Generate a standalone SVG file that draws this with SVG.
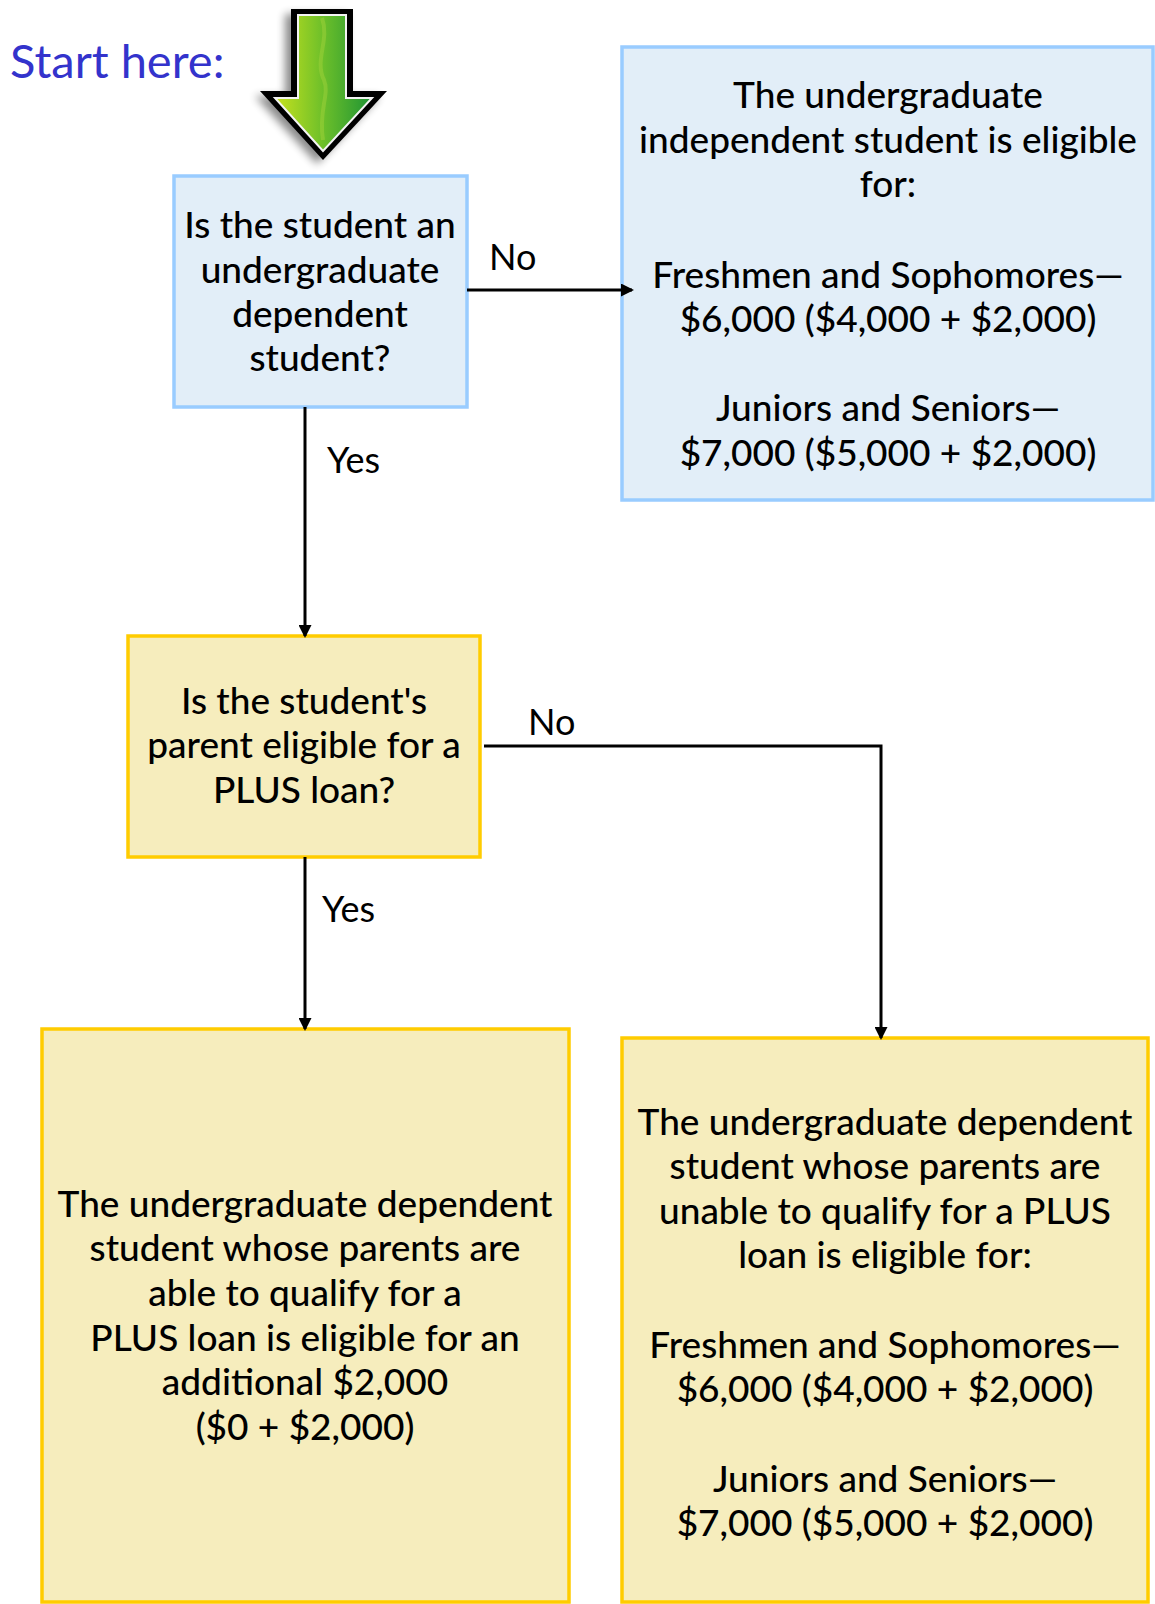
<svg xmlns="http://www.w3.org/2000/svg" width="1155" height="1604" viewBox="0 0 1155 1604">
<style>
.t{font-family:Lato,"Open Sans","Noto Sans",sans-serif;font-size:37px;fill:#000;text-anchor:middle;font-weight:500}
.lbl{font-family:Lato,"Open Sans","Noto Sans",sans-serif;font-size:36px;fill:#000;font-weight:400}
.blue{fill:#E2EEF8;stroke:#99CCFF;stroke-width:3.5}
.yel{fill:#F6EDBD;stroke:#FFCC00;stroke-width:3.5}
.con{fill:none;stroke:#000;stroke-width:3}
</style>
<defs>
<marker id="ah" markerWidth="13" markerHeight="13" refX="11" refY="6.5" orient="auto" markerUnits="userSpaceOnUse">
<path d="M0,0 L13,6.5 L0,13 z" fill="#000"/>
</marker>
<linearGradient id="gg" x1="0" y1="0" x2="1" y2="0">
<stop offset="0" stop-color="#C8E21E"/>
<stop offset="0.5" stop-color="#6CBF2A"/>
<stop offset="1" stop-color="#1E9434"/>
</linearGradient>
<filter id="sh" x="-30%" y="-30%" width="160%" height="160%">
<feGaussianBlur stdDeviation="4"/>
</filter>
</defs>
<rect width="1155" height="1604" fill="#fff"/>
<text id="start" x="10" y="78" font-family="Lato,'Open Sans','Noto Sans',sans-serif" font-size="47" fill="#3333CC">Start here:</text>
<g id="start-arrow">
<polygon points="285,14 347,14 347,96 380,96 317,164 255,96 285,96" fill="#000" opacity="0.45" filter="url(#sh)"/>
<polygon points="291,9 353,9 353,91 387,91 323,160 260,91 291,91" fill="#000"/>
<polygon points="298,15 346,15 346,98 372,98 323,151 275,98 298,98" fill="url(#gg)" stroke="#f4f4f4" stroke-width="2"/>
<path d="M322,18 C330,40 314,60 324,80 C330,95 318,110 323,140" fill="none" stroke="#9FD23A" stroke-width="4" opacity="0.5"/>
</g>
<g id="n1">
<rect class="blue" x="174" y="176" width="293" height="231"/>
<text class="t"><tspan x="320" y="238">Is the student an</tspan><tspan x="320" y="283">undergraduate</tspan><tspan x="320" y="327">dependent</tspan><tspan x="320" y="371">student?</tspan></text>
</g>
<g id="n2">
<rect class="blue" x="622" y="47" width="531" height="453"/>
<text class="t"><tspan x="888" y="108">The undergraduate</tspan><tspan x="888" y="153">independent student is eligible</tspan><tspan x="888" y="197">for:</tspan><tspan x="888" y="288">Freshmen and Sophomores—</tspan><tspan x="888" y="332">$6,000 ($4,000 + $2,000)</tspan><tspan x="888" y="421">Juniors and Seniors—</tspan><tspan x="888" y="466">$7,000 ($5,000 + $2,000)</tspan></text>
</g>
<g id="n3">
<rect class="yel" x="128" y="636" width="352" height="221"/>
<text class="t"><tspan x="304" y="714">Is the student's</tspan><tspan x="304" y="758">parent eligible for a</tspan><tspan x="304" y="803">PLUS loan?</tspan></text>
</g>
<g id="n4">
<rect class="yel" x="42" y="1029" width="527" height="573"/>
<text class="t"><tspan x="305" y="1217">The undergraduate dependent</tspan><tspan x="305" y="1261">student whose parents are</tspan><tspan x="305" y="1306">able to qualify for a</tspan><tspan x="305" y="1351">PLUS loan is eligible for an</tspan><tspan x="305" y="1395">additional $2,000</tspan><tspan x="305" y="1440">($0 + $2,000)</tspan></text>
</g>
<g id="n5">
<rect class="yel" x="622" y="1038" width="526" height="564"/>
<text class="t"><tspan x="885" y="1135">The undergraduate dependent</tspan><tspan x="885" y="1179">student whose parents are</tspan><tspan x="885" y="1224">unable to qualify for a PLUS</tspan><tspan x="885" y="1268">loan is eligible for:</tspan><tspan x="885" y="1358">Freshmen and Sophomores—</tspan><tspan x="885" y="1402">$6,000 ($4,000 + $2,000)</tspan><tspan x="885" y="1492">Juniors and Seniors—</tspan><tspan x="885" y="1536">$7,000 ($5,000 + $2,000)</tspan></text>
</g>
<g id="connectors">
<line class="con" x1="467" y1="290" x2="632" y2="290" marker-end="url(#ah)"/>
<line class="con" x1="305" y1="407" x2="305" y2="636" marker-end="url(#ah)"/>
<line class="con" x1="305" y1="857" x2="305" y2="1029" marker-end="url(#ah)"/>
<polyline class="con" points="484,746 881,746 881,1038" marker-end="url(#ah)"/>
<text class="lbl" x="489" y="270">No</text>
<text class="lbl" x="327" y="473">Yes</text>
<text class="lbl" x="528" y="735">No</text>
<text class="lbl" x="322" y="922">Yes</text>
</g>
</svg>
